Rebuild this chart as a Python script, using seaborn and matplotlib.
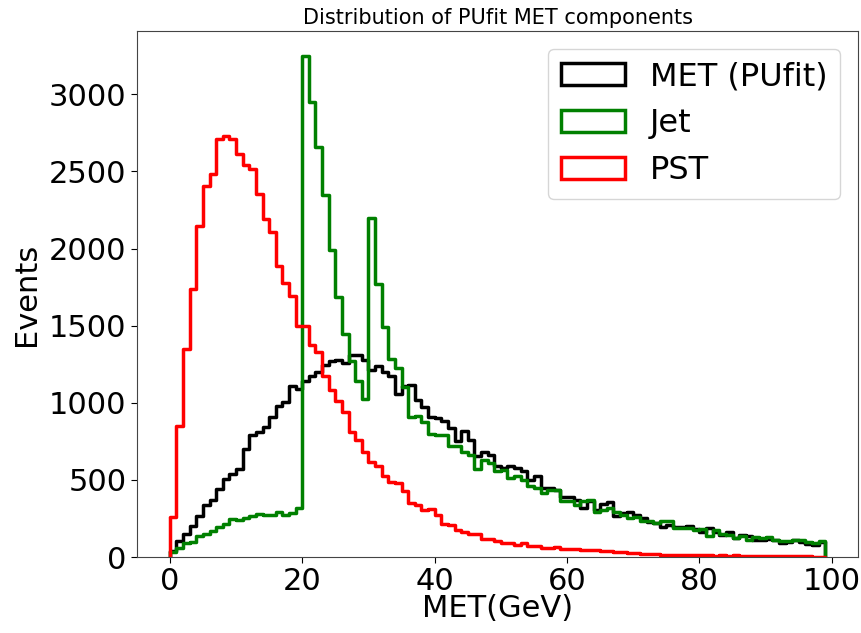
import numpy as np
import pandas as pd
import matplotlib
matplotlib.use("Agg")
import matplotlib.pyplot as plt
from matplotlib.patches import Patch
import seaborn as sns

# bin edges (GeV) and per-bin event counts
bin_edges = list(range(0, 100))

met_pufit = [40, 103, 152, 204, 264, 340, 368, 444, 506, 541,
             571, 700, 793, 811, 843, 908, 977, 1005, 1107, 1089,
             1139, 1175, 1197, 1247, 1268, 1279, 1258, 1312, 1312, 1275,
             1214, 1236, 1197, 1175, 1057, 1111, 1117, 1016, 973, 910,
             901, 880, 835, 755, 815, 757, 657, 679, 664, 593,
             578, 593, 578, 556, 502, 524, 448, 448, 433, 390,
             390, 372, 318, 362, 303, 346, 355, 269, 286, 291,
             275, 254, 226, 221, 195, 210, 195, 195, 200, 185,
             160, 189, 161, 146, 161, 124, 146, 135, 109, 109,
             118, 109, 92, 96, 113, 98, 87, 77, 100]

jet = [30, 59, 92, 96, 139, 150, 167, 195, 217, 249,
       243, 254, 269, 280, 271, 271, 290, 275, 286, 318,
       3248, 2950, 2661, 2350, 1992, 1687, 1445, 1268, 1139, 1027,
       2201, 1769, 1491, 1285, 1227, 1100, 910, 916, 876, 800,
       790, 790, 722, 722, 679, 664, 571, 627, 610, 556,
       567, 513, 524, 502, 463, 448, 416, 437, 437, 362,
       362, 340, 362, 372, 290, 308, 318, 290, 275, 254,
       260, 236, 232, 221, 232, 232, 189, 189, 189, 174,
       182, 139, 174, 152, 146, 124, 135, 113, 131, 122,
       131, 113, 107, 103, 113, 109, 96, 92, 103]

pst = [260, 852, 1348, 1741, 2147, 2406, 2482, 2708, 2732, 2708,
       2613, 2542, 2516, 2354, 2192, 2106, 1888, 1778, 1694, 1499,
       1499, 1372, 1329, 1171, 1085, 1009, 940, 809, 761, 681,
       616, 588, 524, 487, 480, 426, 351, 336, 308, 314,
       275, 217, 206, 178, 161, 150, 150, 118, 118, 107,
       92, 92, 77, 92, 70, 70, 59, 59, 64, 53,
       55, 50, 48, 48, 45, 40, 38, 33, 30, 28,
       25, 22, 20, 17, 15, 16, 14, 12, 12, 10,
       12, 10, 9, 10, 8, 10, 8, 7, 7, 6,
       6, 5, 5, 5, 4, 4, 4, 3, 3]

series_labels = ["MET (PUfit)", "Jet", "PST"]
series_colors = ["black", "green", "red"]
x_ticks = [0, 20, 40, 60, 80, 100]
y_ticks = [0, 500, 1000, 1500, 2000, 2500, 3000]

sns.set_style("white")
plt.rcParams["font.family"] = ["DejaVu Sans"]
plt.rcParams["text.color"] = "black"
plt.rcParams["axes.labelcolor"] = "black"
plt.rcParams["xtick.color"] = "black"
plt.rcParams["ytick.color"] = "black"

fig = plt.figure(figsize=(8.62, 6.33), dpi=100)
ax = fig.add_axes([0.159, 0.12, 0.8364, 0.831])

edges = np.array(bin_edges, dtype=float)
centers = edges[:-1] + 0.5
lw = 2.5
for counts, col in zip([met_pufit, jet, pst], series_colors):
    counts = np.asarray(counts, dtype=float)
    df = pd.DataFrame({"met": centers, "events": counts})
    sns.histplot(data=df, x="met", weights="events", bins=bin_edges,
                 element="step", fill=False, color=col, linewidth=lw, ax=ax)
    # close the outline down to the baseline at both ends (like histtype='step')
    ax.vlines([edges[0], edges[-1]], 0, [counts[0], counts[-1]],
              colors=col, linewidth=lw)

ax.set_xticks(x_ticks)
ax.set_yticks(y_ticks)
ax.tick_params(axis="both", labelsize=22, length=4, width=0.8,
               bottom=True, left=True, colors="black")
ax.set_xlabel("MET(GeV)", fontsize=22, labelpad=-2)
ax.set_ylabel("Events", fontsize=22, labelpad=6)
ax.set_title("Distribution of PUfit MET components", fontsize=15, pad=5)
for s in ax.spines.values():
    s.set_color("#444444")
    s.set_linewidth(0.8)

handles = [Patch(facecolor="none", edgecolor=c, linewidth=lw, label=l)
           for c, l in zip(series_colors, series_labels)]
leg = ax.legend(handles=handles, loc="upper right", fontsize=23, frameon=True,
                labelspacing=0.5, borderaxespad=0.55)
for t in leg.get_texts():
    t.set_color("black")

fig.savefig("out.png", dpi=100)
